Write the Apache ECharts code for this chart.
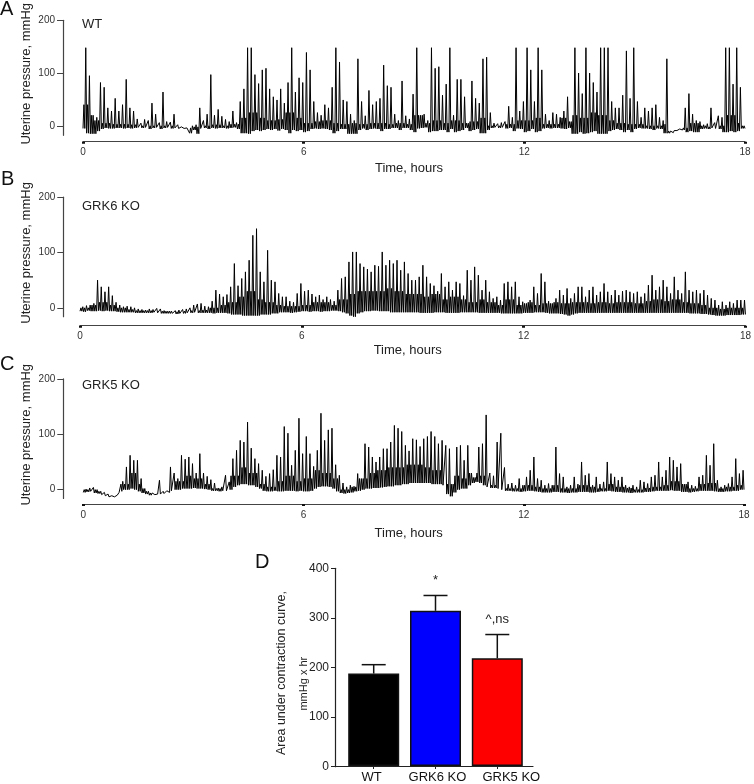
<!DOCTYPE html>
<html><head><meta charset="utf-8">
<script src="https://cdn.jsdelivr.net/npm/echarts@6/dist/echarts.min.js"></script>
<style>html,body{margin:0;padding:0;background:#fff}#c{width:754px;height:784px}</style>
</head><body><div id="c"></div>
<script>
// sampling of the traces: one high / low reading per 0.1 h bin,
// plus the top of the dense trace mass read per 0.25 h
const binHours = 0.1;
const massHours = 0.25;

const wtHigh = [
148,95,20,16,82,73,34,28,52,28,
40,88,34,28,13,5,12,10,43,22,
6,64,8,7,22,2,-2,-3,-1,0,
2,34,10,22,97,20,31,18,12,8,
28,6,46,70,148,148,97,80,106,109,
70,55,49,70,43,82,148,64,91,82,
139,106,46,25,20,40,34,73,148,121,
49,46,22,10,127,46,19,67,40,46,
52,115,76,73,22,10,85,19,13,60,
148,20,22,10,148,109,112,58,79,148,
20,88,88,55,5,85,52,43,127,130,
25,5,4,6,8,37,16,148,28,46,
148,106,46,148,106,22,10,25,22,16,
28,55,8,148,100,61,148,100,82,64,
148,148,148,46,34,34,58,142,52,148,
46,16,34,28,34,40,16,10,127,-10,
-9,-6,-3,34,61,22,10,8,2,4,
34,6,19,16,148,148,79,148,73,0];
const wtLow = [
-5,-14,-15,-15,-10,-6,-4,-5,-5,-4,
-4,-5,-4,-5,-4,-3,-4,-3,-6,-4,
-3,-6,-4,-3,-5,-4,-5,-5,-6,-14,
-8,-15,-5,-4,-6,-4,-5,-4,-4,-5,
-4,-3,-6,-14,-14,-15,-10,-8,-10,-8,
-6,-8,-6,-9,-6,-8,-14,-8,-10,-8,
-12,-10,-6,-5,-6,-5,-6,-8,-14,-10,
-6,-6,-15,-15,-15,-8,-5,-8,-6,-5,
-6,-10,-6,-6,-4,-4,-8,-4,-4,-8,
-12,-5,-4,-3,-12,-10,-10,-8,-8,-12,
-6,-12,-10,-8,-4,-10,-8,-6,-14,-14,
-8,-4,-3,-4,-3,-5,-4,-10,-5,-6,
-12,-10,-6,-12,-10,-5,-4,-5,-4,-4,
-5,-6,-4,-15,-15,-12,-15,-14,-12,-10,
-15,-15,-15,-10,-8,-6,-8,-12,-8,-12,
-6,-4,-5,-5,-6,-8,-5,-6,-14,-14,
-13,-9,-6,-8,-12,-10,-12,-12,-6,-5,
-6,-4,-5,-6,-12,-12,-10,-12,-10,-5];
const wtMass = [
40,10,5,3,3,2,0,0,0,0,
-3,-4,-2,0,2,0,3,15,25,15,
10,12,25,15,5,8,10,5,3,5,
3,5,5,3,5,3,20,5,10,5,
10,5,8,15,0,0,3,10,10,15,
3,3,15,20,15,25,20,10,5,3,
3,0,0,3,-8,-4,5,0,-2,0,
20,5];

const grk6High = [
2,4,5,8,50,38,29,38,22,10,
5,2,3,2,0,-2,-3,-4,-2,-3,
-1,-2,-5,-6,-6,-5,-4,-3,-2,0,
5,7,8,3,2,12,32,25,20,24,
38,80,40,53,65,86,131,143,65,47,
104,50,47,26,20,20,12,10,26,44,
30,32,25,20,23,15,20,15,12,32,
53,56,83,101,101,80,74,70,65,77,
75,101,77,86,80,86,68,83,62,50,
50,56,77,56,44,40,30,62,38,47,
32,47,44,22,68,50,74,59,32,50,
29,17,20,14,44,47,38,47,20,11,
8,14,38,26,62,47,12,8,17,32,
23,35,17,26,38,38,20,32,38,23,
29,44,29,23,32,23,30,32,29,26,
29,20,26,41,59,32,38,50,38,26,
56,32,26,65,32,29,32,26,32,23,
17,14,5,11,5,11,8,14,14,14];
const grk6Low = [
-6,-7,-5,-6,-6,-5,-6,-5,-6,-6,
-7,-8,-8,-8,-8,-9,-9,-9,-9,-9,
-8,-9,-10,-10,-10,-10,-11,-10,-10,-9,
-9,-8,-9,-9,-9,-9,-10,-9,-9,-9,
-10,-12,-12,-12,-14,-14,-14,-14,-14,-12,
-12,-12,-10,-10,-8,-8,-8,-9,-8,-7,
-6,-6,-7,-6,-6,-7,-6,-6,-5,-5,
-6,-8,-10,-14,-16,-10,-8,-6,-6,-5,
-5,-6,-6,-6,-8,-8,-8,-8,-8,-8,
-8,-8,-9,-9,-9,-9,-8,-8,-8,-9,
-9,-9,-9,-8,-8,-8,-8,-8,-9,-9,
-9,-9,-9,-9,-10,-10,-10,-10,-10,-10,
-9,-9,-9,-8,-8,-8,-9,-10,-10,-10,
-11,-12,-14,-12,-10,-9,-9,-9,-9,-9,
-9,-9,-9,-9,-9,-9,-9,-9,-9,-9,
-9,-9,-9,-9,-9,-9,-9,-9,-9,-9,
-9,-9,-9,-9,-9,-10,-10,-10,-11,-11,
-12,-13,-14,-14,-14,-13,-13,-13,-13,-12];
const grk6Mass = [
0,5,10,5,0,-3,-5,-5,-6,-6,
-7,-6,-5,-4,0,5,10,20,30,15,
10,5,3,3,5,10,10,5,15,25,
30,30,30,35,30,25,25,20,25,15,
20,15,10,15,10,5,15,5,10,5,
8,10,8,10,10,8,10,8,10,10,
8,12,15,12,15,10,8,5,0,-2,
0,0];

const grk5High = [
1,3,4,0,-3,-5,-8,-11,-11,-5,
15,41,62,53,53,20,2,-3,-6,-6,
17,-3,-2,41,30,20,62,55,59,47,
30,65,30,24,18,12,3,5,26,14,
56,71,89,86,122,75,56,47,35,24,
29,36,62,59,114,102,44,71,129,65,
96,65,42,71,138,89,108,111,45,26,
12,5,8,6,29,20,83,77,59,50,
59,74,74,86,116,111,105,80,70,92,
90,78,92,96,105,96,83,89,80,74,
10,77,80,53,80,30,22,77,83,135,
30,25,86,102,40,10,12,8,20,8,
23,35,59,20,17,8,11,8,77,29,
23,5,8,23,10,50,26,29,8,23,
10,14,50,29,23,17,23,8,5,8,
5,17,14,11,23,26,50,23,35,59,
53,41,47,10,14,8,6,23,26,62,
44,83,17,5,8,11,23,56,29,35];
const grk5Low = [
-5,-4,-3,-6,-7,-9,-11,-13,-13,-10,
-3,0,0,2,0,-3,-6,-8,-10,-9,
-8,-8,-7,-5,-2,0,0,2,2,2,
3,2,2,1,0,-2,-2,-3,-2,-2,
0,5,8,10,10,8,8,5,2,-2,
-3,-3,-2,-3,-3,-2,-2,-2,-3,-2,
-3,-3,-2,2,5,6,6,5,2,-3,
-6,-7,-6,-5,-3,-2,0,2,2,3,
3,4,5,6,6,8,8,10,10,12,
12,12,12,12,12,10,10,10,8,-8,
-12,-5,0,2,2,8,12,14,12,8,
5,3,3,2,0,-2,-2,-3,-3,-4,
-3,-2,-2,-3,-4,-5,-5,-5,-4,-4,
-5,-5,-6,-5,-5,-4,-4,-4,-5,-5,
-4,-3,-3,-2,-3,-4,-4,-5,-5,-6,
-5,-5,-5,-4,-4,-3,-2,-2,-2,-2,
-1,-2,-2,-4,-4,-5,-4,-3,-2,-2,
-2,-2,-3,-4,-4,-3,-3,-2,-2,0];
const grk5Mass = [
0,0,-6,-11,10,30,10,-5,-8,-6,
15,25,20,10,2,0,25,40,30,10,
5,15,25,15,20,35,30,20,0,5,
20,30,35,40,40,45,45,40,35,10,
25,20,30,25,8,3,2,2,8,5,
2,8,2,2,8,5,2,10,5,3,
0,3,5,8,15,10,2,10,12,2,
5,8];

const hourMin = 0, hourMax = 18, hourStep = 6;
const pressureTicks = [0, 100, 200];
const panelTitles = ['WT', 'GRK6 KO', 'GRK5 KO'];
const panelLetters = ['A', 'B', 'C', 'D'];

const groups = ['WT', 'GRK6 KO', 'GRK5 KO'];
const aucMean = [187, 314, 218];
const aucSem = [18, 31, 48];
const aucMarks = ['', '*', '^,ns'];
const barColors = ['#000000', '#0000ff', '#ff0000'];

const FONT = '"Liberation Sans", Arial, Helvetica, sans-serif';

// each bin: one excursion to the mass level, one spike to the bin's high
function trace(high, low, mass) {
  const pts = [];
  for (let i = 0; i < high.length; i++) {
    const t = i * binHours;
    const lo = low[i], hi = high[i];
    const m = Math.max(lo, Math.min(hi, mass[Math.floor((t + 1e-9) / massHours)]));
    pts.push([t, lo]);
    pts.push([t + 0.025, m]);
    pts.push([t + 0.05, lo]);
    pts.push([t + 0.075, hi]);
  }
  pts.push([high.length * binHours, low[low.length - 1]]);
  return pts;
}

const panels = [
  { grid: { left: 83, top: 14.65, width: 662, height: 120.65 }, yMin: -18, yOff: 20, xOff: 6.4, nameGap: 20, high: wtHigh, low: wtLow, mass: wtMass },
  { grid: { left: 80, top: 197.15, width: 667.7, height: 119.55 }, yMin: -16, yOff: 16.7, xOff: 9, nameGap: 18, high: grk6High, low: grk6Low, mass: grk6Mass },
  { grid: { left: 83.3, top: 378.95, width: 660.7, height: 119.55 }, yMin: -16, yOff: 20, xOff: 5.5, nameGap: 23, high: grk5High, low: grk5Low, mass: grk5Mass }
];

const grids = panels.map(p => p.grid);
grids.push({ left: 335, top: 568.3, width: 198, height: 198.4 });
grids.push({ left: 342.8, top: 568.3, width: 185.4, height: 198.4 });

const xAxes = panels.map((p, k) => ({
  gridIndex: k, type: 'value', min: hourMin, max: hourMax, interval: hourStep,
  offset: p.xOff,
  axisLine: { show: true, onZero: false, lineStyle: { color: '#444', width: 1.2 } },
  axisTick: { show: true, length: 2, lineStyle: { color: '#111', width: 3 } },
  axisLabel: { fontSize: 10, color: '#333', margin: 6, fontFamily: FONT },
  splitLine: { show: false },
  name: 'Time, hours', nameLocation: 'middle', nameGap: p.nameGap, nameMoveOverlap: false,
  nameTextStyle: { fontSize: 13, color: '#222', fontFamily: FONT, padding: [0, 10, 0, 0] }
}));
xAxes.push({
  gridIndex: 3, type: 'value', min: 0, max: 1,
  axisLine: { show: true, onZero: false, lineStyle: { color: '#222', width: 1.2 } },
  axisTick: { show: false }, axisLabel: { show: false }, splitLine: { show: false }
});
xAxes.push({
  gridIndex: 4, type: 'category', data: groups,
  axisLine: { show: false, onZero: false },
  axisTick: { show: true, alignWithLabel: true, length: 3, lineStyle: { color: '#222', width: 1 } },
  axisLabel: {
    interval: 0, margin: 5, fontSize: 13, color: '#111', fontFamily: FONT,
    formatter: v => v === 'GRK5 KO' ? '{r|' + v + '}' : (v === 'GRK6 KO' ? '{m|' + v + '}' : '{l|' + v + '}'),
    rich: {
      l: { fontSize: 13, color: '#111', fontFamily: FONT, padding: [0, 4, 0, 0] },
      m: { fontSize: 13, color: '#111', fontFamily: FONT, padding: [0, 0, 0, 4] },
      r: { fontSize: 13, color: '#111', fontFamily: FONT, padding: [0, 0, 0, 28] }
    }
  },
  splitLine: { show: false }
});

const yAxes = panels.map((p, k) => ({
  gridIndex: k, type: 'value', min: p.yMin, max: 200, offset: p.yOff,
  axisLine: { show: true, onZero: false, lineStyle: { color: '#444', width: 1.2 } },
  axisTick: { show: true, length: 6, customValues: pressureTicks, lineStyle: { color: '#444' } },
  axisLabel: { customValues: pressureTicks, fontSize: 10, color: '#333', margin: 8, fontFamily: FONT },
  splitLine: { show: false },
  name: 'Uterine pressure, mmHg', nameLocation: 'middle', nameGap: 30, nameMoveOverlap: false,
  nameTextStyle: { fontSize: 13, color: '#222', fontFamily: FONT, padding: [0, 0, 0, 8] }
}));
yAxes.push({
  gridIndex: 3, type: 'value', min: 0, max: 400, interval: 100,
  axisLine: { show: true, onZero: false, lineStyle: { color: '#222', width: 1.2 } },
  axisTick: { show: true, length: 4, lineStyle: { color: '#222' } },
  axisLabel: { fontSize: 12, color: '#222', margin: 6, fontFamily: FONT },
  splitLine: { show: false },
  name: 'Area under contraction curve,', nameLocation: 'middle', nameGap: 47, nameMoveOverlap: false,
  nameTextStyle: { fontSize: 12.5, color: '#222', fontFamily: FONT, padding: [0, 11, 0, 0] }
});
yAxes.push({
  gridIndex: 4, type: 'value', min: 0, max: 400,
  axisLine: { show: false, onZero: false }, axisTick: { show: false }, axisLabel: { show: false },
  splitLine: { show: false },
  name: 'mmHg x hr', nameLocation: 'middle', nameGap: 33, nameMoveOverlap: false,
  nameTextStyle: { fontSize: 11, color: '#222', fontFamily: FONT, padding: [0, 33, 0, 0] }
});

const series = panels.map((p, k) => ({
  type: 'line', xAxisIndex: k, yAxisIndex: k,
  data: trace(p.high, p.low, p.mass),
  symbol: 'none', showSymbol: false,
  lineStyle: { color: '#000', width: 1 },
  silent: true, animation: false
}));
series.push({
  type: 'bar', xAxisIndex: 4, yAxisIndex: 4, barWidth: 51,
  data: aucMean.map((v, i) => ({ value: v, itemStyle: { color: barColors[i] } })),
  itemStyle: { borderColor: '#111', borderWidth: 1.5 },
  animation: false
});
series.push({
  type: 'custom', xAxisIndex: 4, yAxisIndex: 4,
  data: aucMean.map((m, i) => [i, m, m + aucSem[i]]),
  renderItem: (params, api) => {
    const base = api.coord([api.value(0), api.value(1)]);
    const top = api.coord([api.value(0), api.value(2)]);
    const half = 12;
    const st = { stroke: '#111', lineWidth: 1.5 };
    return {
      type: 'group', children: [
        { type: 'line', shape: { x1: base[0], y1: base[1], x2: top[0], y2: top[1] }, style: st },
        { type: 'line', shape: { x1: top[0] - half, y1: top[1], x2: top[0] + half, y2: top[1] }, style: st },
        { type: 'text', x: top[0], y: top[1] - 9, style: { text: aucMarks[params.dataIndex], font: '13px ' + FONT, fill: '#222', textAlign: 'center', textVerticalAlign: 'bottom' } }
      ]
    };
  },
  animation: false, z: 5
});

const letterPos = [[0, 9], [1, 179.5], [0, 364.5], [255, 562.5]];
const titlePos = [24, 206, 385];
const graphic = [];
panelLetters.forEach((L, i) => graphic.push({
  type: 'text', x: letterPos[i][0], y: letterPos[i][1],
  style: { text: L, font: '20px ' + FONT, fill: '#111', textVerticalAlign: 'middle' }
}));
panelTitles.forEach((T, i) => graphic.push({
  type: 'text', x: 82, y: titlePos[i],
  style: { text: T, font: '13px ' + FONT, fill: '#222', textVerticalAlign: 'middle' }
}));

const chart = echarts.init(document.getElementById('c'), null, { renderer: 'canvas' });
chart.setOption({
  animation: false,
  backgroundColor: '#fff',
  textStyle: { fontFamily: FONT },
  grid: grids, xAxis: xAxes, yAxis: yAxes, series: series, graphic: graphic
});
</script></body></html>
